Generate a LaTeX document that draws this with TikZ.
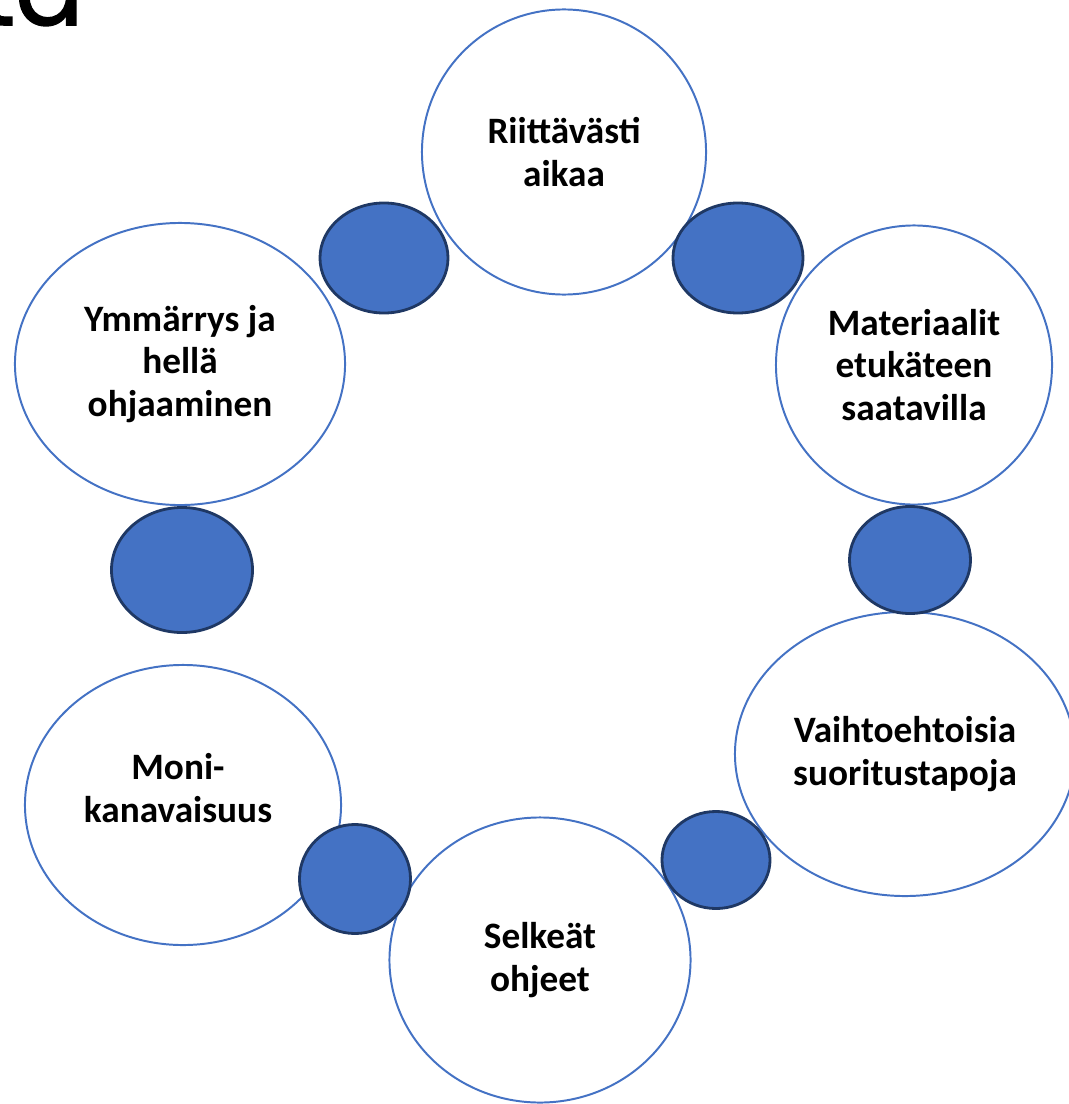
\documentclass[tikz,border=0pt]{standalone}
\usepackage{fontspec}
\setmainfont{Carlito}
\newfontfamily\titlefont[FakeBold=1.5]{Poppins}
\usetikzlibrary{shapes.geometric}

\definecolor{ringblue}{HTML}{4472C4}
\definecolor{dotedge}{HTML}{1F3864}

\tikzset{
    ringtext/.style={align=center, inner sep=0pt, font=\fontsize{26.5}{30.5}\selectfont\bfseries},
    bigring/.style={ellipse, draw=ringblue, line width=1.4pt, fill=white, inner sep=0pt, ringtext},
    bluedot/.style={ellipse, draw=dotedge, line width=2pt, fill=ringblue, inner sep=0pt}
}

\begin{document}
\begin{tikzpicture}[x=0.025cm, y=-0.025cm]
            \useasboundingbox (0,0) rectangle (1069,1104);

            % cut-off title
            \node[anchor=base east, inner sep=0pt, font=\titlefont\fontsize{72}{72}\selectfont] (title) at (84,25) {ta};

            % outer rings
            \node[bigring, minimum width=7.1cm, minimum height=7.125cm] (aika) at (564,152) {Riittävästi\\aikaa};
            \node[bigring, minimum width=6.9cm, minimum height=6.975cm] (materiaalit) at (914,365) {Materiaalit\\etukäteen\\saatavilla};
            \node[bigring, minimum width=8.5cm, minimum height=7.1cm] (suoritus) at (905,754) {Vaihtoehtoisia\\suoritustapoja};
            \node[bigring, minimum width=7.525cm, minimum height=7.125cm] (ohjeet) at (540,960) {Selkeät\\ohjeet};
            \node[bigring, minimum width=7.9cm, minimum height=7.0cm] (kanava) at (183,805) {};
            \node[ringtext] (kanavateksti) at (178,788) {Moni-\\kanavaisuus};
            \node[bigring, minimum width=8.25cm, minimum height=7.05cm] (ymmarrys) at (180,364) {Ymmärrys ja\\hellä\\ohjaaminen};

            % blue dots between the rings
            \node[bluedot, minimum width=3.2cm, minimum height=2.75cm] (dotA) at (384,258) {};
            \node[bluedot, minimum width=3.25cm, minimum height=2.75cm] (dotB) at (738,258) {};
            \node[bluedot, minimum width=3.025cm, minimum height=2.675cm] (dotC) at (910,560) {};
            \node[bluedot, minimum width=2.7cm, minimum height=2.425cm] (dotD) at (716,860) {};
            \node[bluedot, minimum width=2.775cm, minimum height=2.725cm] (dotE) at (355,879) {};
            \node[bluedot, minimum width=3.525cm, minimum height=3.125cm] (dotF) at (182,570) {};
\end{tikzpicture}
\end{document}
